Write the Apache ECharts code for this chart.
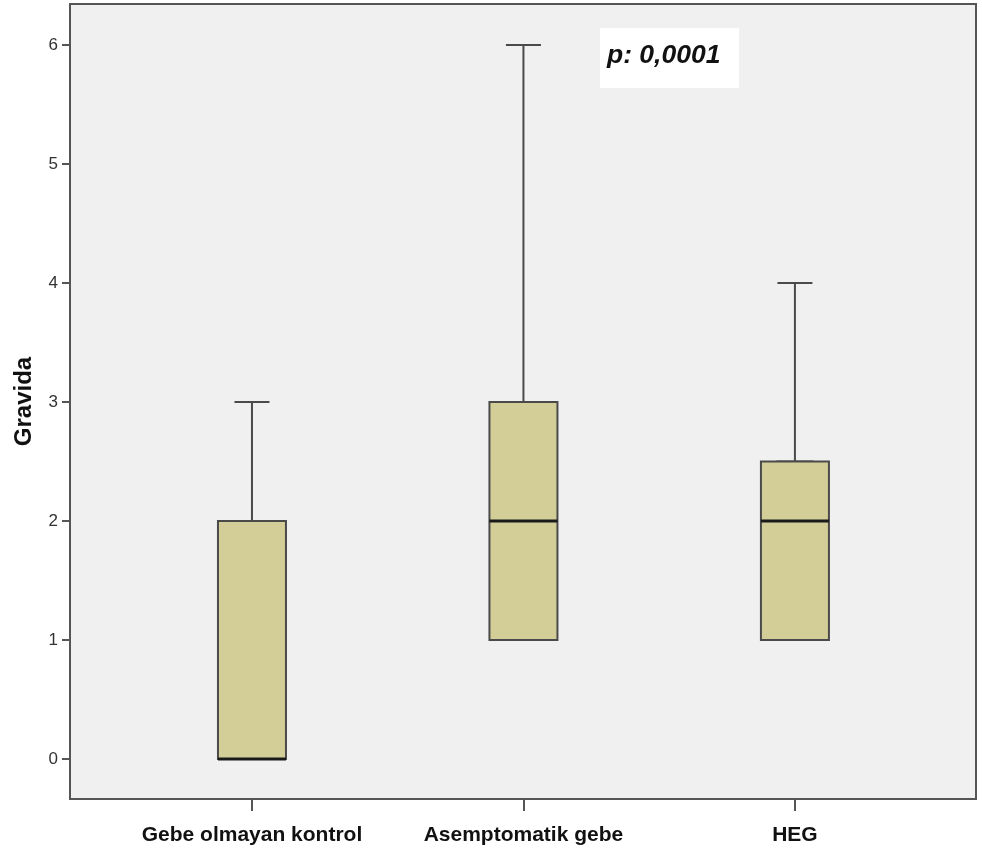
<!DOCTYPE html>
<html>
<head>
<meta charset="utf-8">
<script src="https://cdn.jsdelivr.net/npm/echarts@6/dist/echarts.min.js"></script>
<style>html,body{margin:0;padding:0;background:#fff;}#c{width:982px;height:857px;}</style>
</head>
<body>
<div id="c"></div>
<script>
// Data
var categories = ['Gebe olmayan kontrol', 'Asemptomatik gebe', 'HEG'];
var minVals = [0, 1, 1];
var q1Vals = [0, 1, 1];
var medianVals = [0, 2, 2];
var q3Vals = [2, 3, 2.5];
var maxVals = [3, 6, 4];
var yTicks = [0, 1, 2, 3, 4, 5, 6];
var yTitle = 'Gravida';
var pText = 'p: 0,0001';

var positions = categories.map(function (c, i) { return i + 1; });

var whiskerData = positions.map(function (x, i) {
  return [x, minVals[i], q1Vals[i], q1Vals[i], q3Vals[i], maxVals[i]];
});
var boxData = positions.map(function (x, i) {
  return [x, q1Vals[i], q1Vals[i], medianVals[i], q3Vals[i], q3Vals[i]];
});
var medianData = positions.map(function (x, i) {
  return [x, medianVals[i], medianVals[i], medianVals[i], medianVals[i], medianVals[i]];
});

var xMin = 0.3297, xMax = 3.667;
function xAxisDef(show) {
  return {
    type: 'value', min: xMin, max: xMax, show: show, position: 'bottom',
    splitLine: { show: false },
    axisLine: { show: false, onZero: false },
    axisTick: { show: show, length: 12, customValues: positions, lineStyle: { color: '#555', width: 2 } },
    axisLabel: {
      show: show, customValues: positions, margin: 26,
      formatter: function (v) { return categories[Math.round(v) - 1] || ''; },
      fontFamily: 'Liberation Sans, Arial, sans-serif', fontWeight: 'bold', fontSize: 21, color: '#111'
    }
  };
}

var chart = echarts.init(document.getElementById('c'));
chart.setOption({
  animation: false,
  grid: {
    left: 70, right: 6, top: 4, bottom: 58, containLabel: false, outerBoundsMode: 'none',
    show: true, backgroundColor: '#f0f0f0', borderColor: '#555', borderWidth: 2
  },
  xAxis: [xAxisDef(true), xAxisDef(false), xAxisDef(false)],
  yAxis: {
    type: 'value', min: -0.336, max: 6.345,
    name: yTitle, nameLocation: 'middle', nameGap: 34, nameRotate: 90,
    nameTextStyle: { fontFamily: 'Liberation Sans, Arial, sans-serif', fontWeight: 'bold', fontSize: 24, color: '#111' },
    splitLine: { show: false },
    axisLine: { show: false, onZero: false },
    axisTick: { show: true, length: 8, customValues: yTicks, lineStyle: { color: '#555', width: 2 } },
    axisLabel: { customValues: yTicks, margin: 12, fontFamily: 'Liberation Sans, Arial, sans-serif', fontSize: 17, color: '#333' }
  },
  series: [
    {
      type: 'boxplot', xAxisIndex: 0, data: whiskerData, boxWidth: [35, 35], z: 2,
      itemStyle: { color: '#d3ce97', borderColor: '#4a4a4a', borderWidth: 2 }
    },
    {
      type: 'boxplot', xAxisIndex: 1, data: boxData, boxWidth: [68, 68], z: 3,
      itemStyle: { color: '#d3ce97', borderColor: '#4a4a4a', borderWidth: 2 }
    },
    {
      type: 'boxplot', xAxisIndex: 2, data: medianData, boxWidth: [68, 68], z: 4,
      itemStyle: { color: 'rgba(0,0,0,0)', borderColor: '#1a1a1a', borderWidth: 3 }
    }
  ],
  graphic: [
    {
      type: 'rect', left: 600, top: 28, z: 10,
      shape: { width: 139, height: 60 },
      style: { fill: '#ffffff' }
    },
    {
      type: 'text', left: 607, top: 42, z: 11,
      style: { text: pText, font: 'italic bold 26.5px "Liberation Sans", Arial, sans-serif', fill: '#111' }
    }
  ]
});
</script>
</body>
</html>
